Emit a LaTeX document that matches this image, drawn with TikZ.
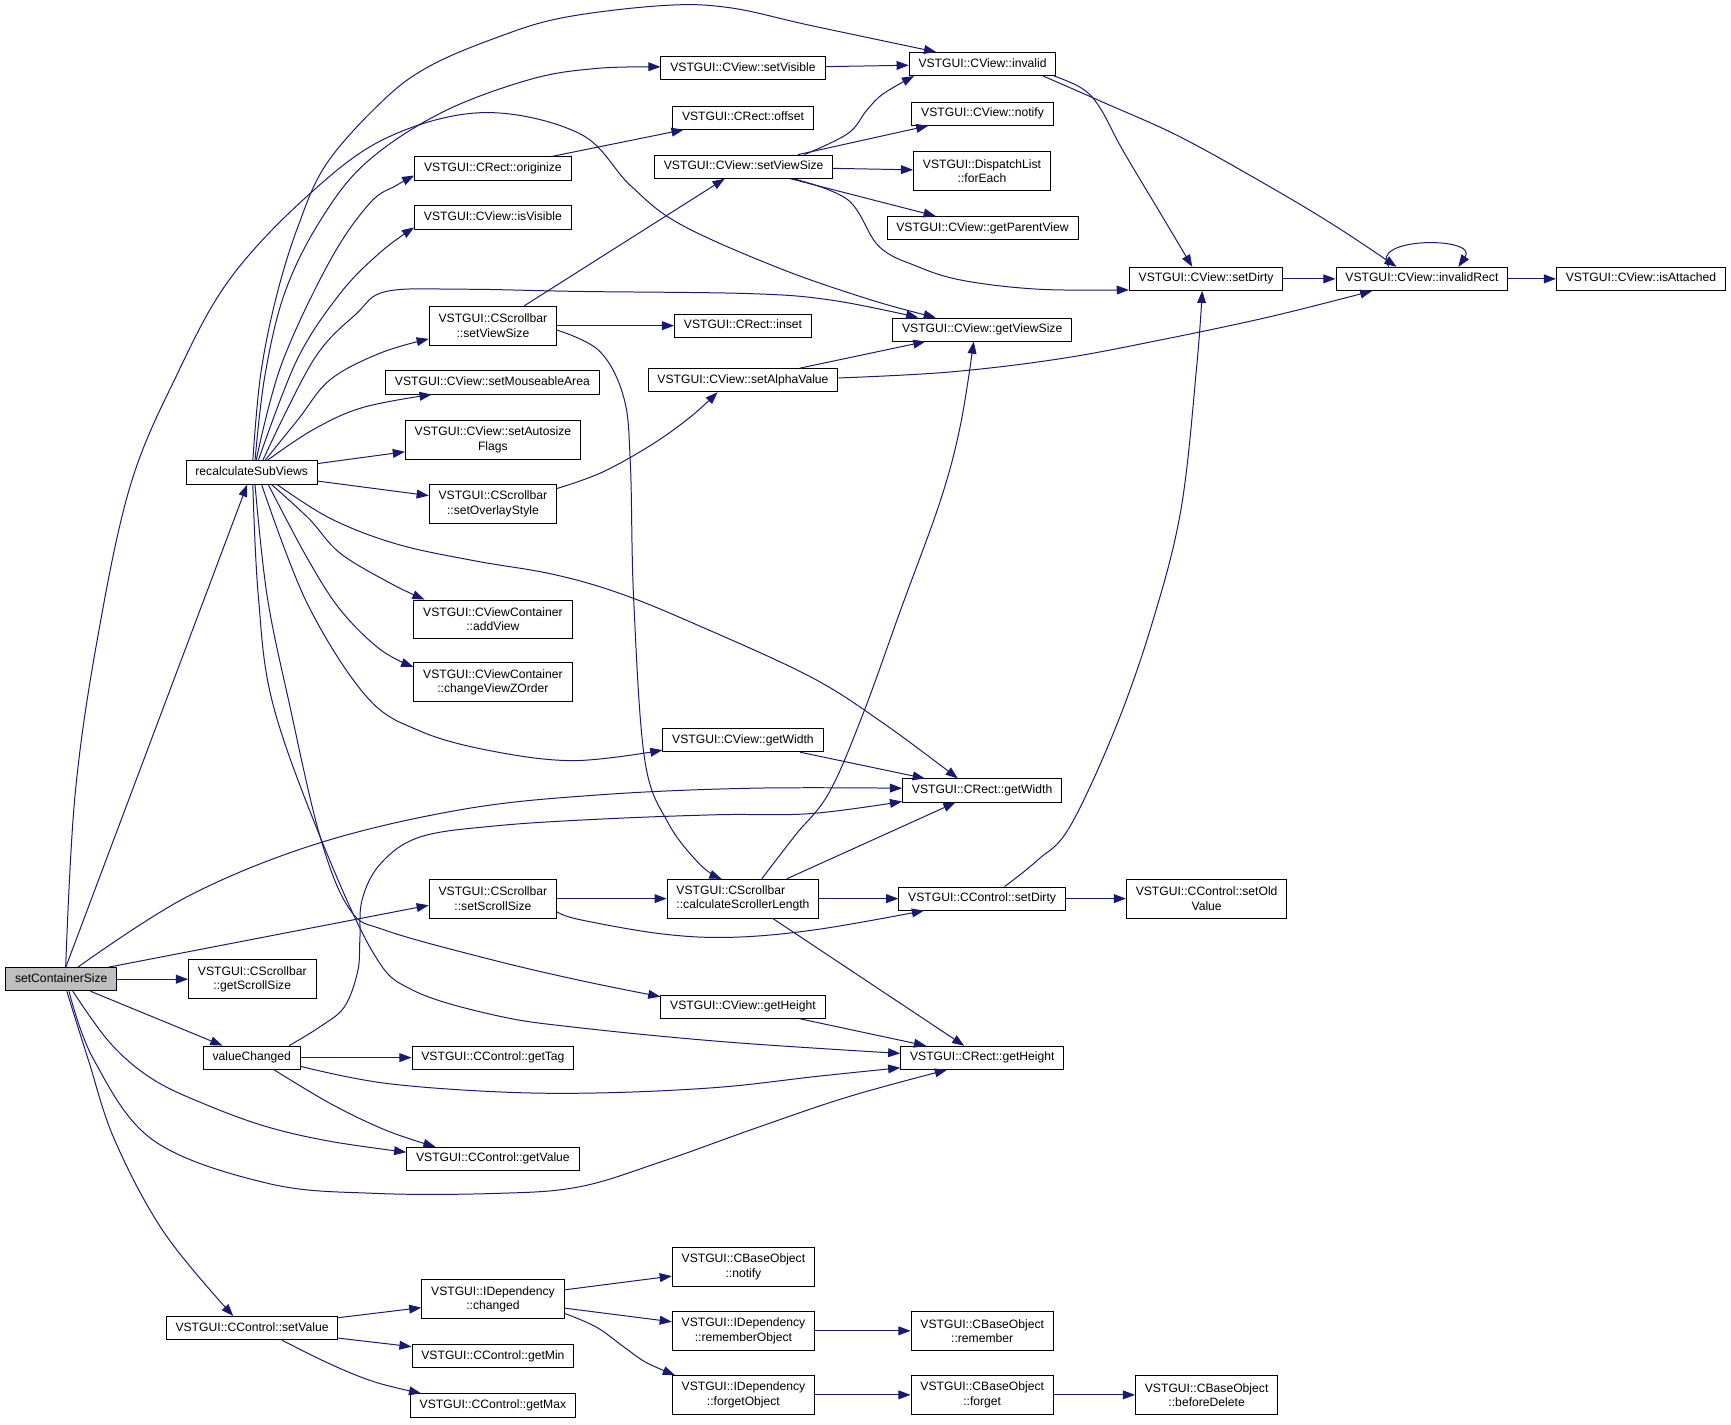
\documentclass[tikz,border=0pt]{standalone}
\usepackage{fontspec}
\newfontfamily\callfamily{Liberation Sans}
\usetikzlibrary{arrows.meta}
\definecolor{edgeblue}{HTML}{191970}
\definecolor{rootgrey}{HTML}{BFBFBF}
\newcommand{\cgfont}{\callfamily\fontsize{11}{13}\selectfont}

\tikzset{
  every node/.style={font=\cgfont},
  fn/.style={draw=black, line width=0.8pt, fill=white, inner xsep=8.5pt, inner ysep=5.25pt, text height=8pt, text depth=2.5pt},
  fntwo/.style={draw=black, line width=0.8pt, fill=white, inner xsep=8.5pt, inner ysep=2pt, minimum height=35pt, align=center},
  rootfn/.style={fn, fill=rootgrey},
  callarrow/.style={draw=edgeblue, line width=0.9pt, -{Triangle[length=11pt,width=8pt]}},
}

\begin{document}
\begin{tikzpicture}[x=1pt, y=-1pt]
  \useasboundingbox (0,0) rectangle (1568,1290);

  % caller and first level
  \node[rootfn] (sc) at (55.5,887) {setContainerSize};
  \node[fn] (rc) at (228,428) {recalculateSubViews};
  \node[fntwo] (gss) at (228.5,887) {VSTGUI::CScrollbar\\::getScrollSize};
  \node[fn] (vc) at (228,958) {valueChanged};
  \node[fn] (sval) at (228.3,1203) {VSTGUI::CControl::setValue};

  % second level
  \node[fn] (orig) at (446.5,152.5) {VSTGUI::CRect::originize};
  \node[fn] (isv) at (446.5,197) {VSTGUI::CView::isVisible};
  \node[fntwo] (csvs) at (446.5,295) {VSTGUI::CScrollbar\\::setViewSize};
  \node[fn] (sma) at (446,346.5) {VSTGUI::CView::setMouseableArea};
  \node[fntwo] (saf) at (446.5,398.5) {VSTGUI::CView::setAutosize\\Flags};
  \node[fntwo] (sos) at (446.5,456.5) {VSTGUI::CScrollbar\\::setOverlayStyle};
  \node[fntwo] (addv) at (446.5,561) {VSTGUI::CViewContainer\\::addView};
  \node[fntwo] (cvzo) at (446.5,618) {VSTGUI::CViewContainer\\::changeViewZOrder};
  \node[fntwo] (sss) at (446.5,814) {VSTGUI::CScrollbar\\::setScrollSize};
  \node[fn] (gtag) at (446.5,958) {VSTGUI::CControl::getTag};
  \node[fn] (gval) at (446.5,1049.7) {VSTGUI::CControl::getValue};
  \node[fntwo] (chg) at (446.5,1176.7) {VSTGUI::IDependency\\::changed};
  \node[fn] (gmin) at (446.5,1228.4) {VSTGUI::CControl::getMin};
  \node[fn] (gmax) at (446.5,1273) {VSTGUI::CControl::getMax};

  % third level
  \node[fn] (sv) at (673,61.6) {VSTGUI::CView::setVisible};
  \node[fn] (ofs) at (673,106.6) {VSTGUI::CRect::offset};
  \node[fn] (cvvs) at (673.6,151) {VSTGUI::CView::setViewSize};
  \node[fn] (inset) at (673,295) {VSTGUI::CRect::inset};
  \node[fn] (sav) at (673,344.4) {VSTGUI::CView::setAlphaValue};
  \node[fn] (cvgw) at (673,670.5) {VSTGUI::CView::getWidth};
  \node[fntwo, align=left] (csl) at (673,814) {VSTGUI::CScrollbar\\::calculateScrollerLength};
  \node[fn] (cvgh) at (673,911.8) {VSTGUI::CView::getHeight};
  \node[fntwo] (bnot) at (673.4,1147.6) {VSTGUI::CBaseObject\\::notify};
  \node[fntwo] (remo) at (673.4,1205.5) {VSTGUI::IDependency\\::rememberObject};
  \node[fntwo] (forg) at (673.4,1263.5) {VSTGUI::IDependency\\::forgetObject};

  % fourth level
  \node[fn] (inv) at (890,58) {VSTGUI::CView::invalid};
  \node[fn] (cvnot) at (890,103) {VSTGUI::CView::notify};
  \node[fntwo] (fe) at (889.5,155) {VSTGUI::DispatchList\\::forEach};
  \node[fn] (gpv) at (890,206.6) {VSTGUI::CView::getParentView};
  \node[fn] (gvs) at (889.7,298.5) {VSTGUI::CView::getViewSize};
  \node[fn] (crgw) at (889.6,716) {VSTGUI::CRect::getWidth};
  \node[fn] (ccsd) at (889.6,814) {VSTGUI::CControl::setDirty};
  \node[fn] (crgh) at (889.8,958.2) {VSTGUI::CRect::getHeight};
  \node[fntwo] (brem) at (889.7,1205.5) {VSTGUI::CBaseObject\\::remember};
  \node[fntwo] (bforg) at (889.7,1263.5) {VSTGUI::CBaseObject\\::forget};

  % last levels
  \node[fn] (cvsd) at (1092.5,252.6) {VSTGUI::CView::setDirty};
  \node[fntwo] (sov) at (1093,814) {VSTGUI::CControl::setOld\\Value};
  \node[fntwo] (bdel) at (1093,1263.5) {VSTGUI::CBaseObject\\::beforeDelete};
  \node[fn] (ir) at (1288,252.6) {VSTGUI::CView::invalidRect};
  \node[fn] (isa) at (1486.4,252.6) {VSTGUI::CView::isAttached};

  % calls from setContainerSize
  \draw[callarrow] (sc) -- (rc);
  \draw[callarrow] plot[smooth,tension=.6] coordinates {([xshift=4pt]sc.north) (68,720) (88,580) (118,440) (160,340) (208,253) (279,177) (350,125) (438,102) (525,121) (571,168) (616,203) (706,243) (790,272) ([xshift=-42pt]gvs.north)};
  \draw[callarrow] plot[smooth,tension=.6] coordinates {([xshift=15pt]sc.north) (170,812) (288,764) (420,733) (543,720) (680,714) ([yshift=2pt]crgw.west)};
  \draw[callarrow] ([xshift=-8pt]sc.north east) -- ([yshift=-6pt]sss.west);
  \draw[callarrow] (sc) -- (gss);
  \draw[callarrow] (sc) -- (vc);
  \draw[callarrow] plot[smooth,tension=.6] coordinates {([xshift=10.5pt]sc.south) (100,945) (139,978) (190,1002) (243,1021) (300,1034) ([yshift=6pt]gval.west)};
  \draw[callarrow] plot[smooth,tension=.6] coordinates {([xshift=7pt]sc.south) (85,960) (139,1033) (243,1072) (340,1081) (450,1081) (525,1075) (600,1052) (687,1021) (770,993) ([xshift=-32pt]crgh.south)};
  \draw[callarrow] plot[smooth,tension=.6] coordinates {([xshift=5pt]sc.south) (80,960) (104,1033) (149,1117) ([xshift=-17pt]sval.north)};

  % calls from recalculateSubViews
  \draw[callarrow] plot[smooth,tension=.6] coordinates {([xshift=1pt]rc.north) (236,340) (250,270) (270,205) (296,148) (347,91) (389,60) (450,34) (510,16) (601,5) (661,7) (734,23) ([xshift=-42pt]inv.north)};
  \draw[callarrow] plot[smooth,tension=.6] coordinates {([xshift=3pt]rc.north) (240,340) (258,265) (290,200) (332,147) (400,102) (480,72) (540,62) ([yshift=1pt]sv.west)};
  \draw[callarrow] plot[smooth,tension=.6] coordinates {([xshift=4pt]rc.north) (255,330) (299,236) (335,184) (359,168) ([yshift=-6.5pt]orig.west)};
  \draw[callarrow] plot[smooth,tension=.6] coordinates {([xshift=6pt]rc.north) (269,326) (308,266) (344,229) ([yshift=-9pt]isv.west)};
  \draw[callarrow] plot[smooth,tension=.6] coordinates {([xshift=10pt]rc.north) (284,326) (323,284) (350,264) (420,262) (525,264) (680,266) (754,272) ([xshift=-58pt]gvs.north)};
  \draw[callarrow] plot[smooth,tension=.6] coordinates {([xshift=12pt]rc.north) (270,380) (299,344) (344,320) ([yshift=-12pt]csvs.west)};
  \draw[callarrow] plot[smooth,tension=.6] coordinates {([xshift=14pt]rc.north) (284,389) (329,369) ([xshift=-55pt]sma.south)};
  \draw[callarrow] (rc) -- (saf);
  \draw[callarrow] (rc) -- (sos);
  \draw[callarrow] plot[smooth,tension=.6] coordinates {([xshift=18pt]rc.south) (280,470) (308,501) (353,528) ([xshift=-62pt]addv.north)};
  \draw[callarrow] plot[smooth,tension=.6] coordinates {([xshift=15pt]rc.south) (278,505) (308,552) (344,588) ([yshift=14pt]cvzo.west)};
  \draw[callarrow] plot[smooth,tension=.6] coordinates {([xshift=9pt]rc.south) (278,546) (332,631) (380,662) (444,680) (520,689) ([yshift=-9pt]cvgw.west)};
  \draw[callarrow] plot[smooth,tension=.6] coordinates {([xshift=23pt]rc.south) (300,470) (360,493) (430,508) (500,520) (560,537) (629,565) (734,613) (800,655) ([xshift=-22pt]crgw.north)};
  \draw[callarrow] plot[smooth,tension=.6] coordinates {([xshift=3pt]rc.south) (242,540) (262,637) (290,758) (317,824) (350,843) (444,869) (525,888) ([yshift=9pt]cvgh.west)};
  \draw[callarrow] plot[smooth,tension=.6] coordinates {([xshift=1pt]rc.south) (234,540) (247,637) (290,758) (338,863) (374,897) (450,920) (525,931) (660,944) ([yshift=4pt]crgh.west)};

  % second level calls
  \draw[callarrow] (sv) -- (inv);
  \draw[callarrow] (orig) -- (ofs);
  \draw[callarrow] (csvs) -- (cvvs);
  \draw[callarrow] (csvs) -- (inset);
  \draw[callarrow] plot[smooth,tension=.6] coordinates {([yshift=-4pt]csvs.east) (543,318) (565,360) (571,420) (574,543) (584,688) (605,745) (634,783) ([xshift=-19.4pt]csl.north)};
  \draw[callarrow] plot[smooth,tension=.6] coordinates {([yshift=14pt]sos.east) (545,428) (590,403) (625,378) ([xshift=-23pt]sav.south)};
  \draw[callarrow] (sss) -- (csl);
  \draw[callarrow] plot[smooth,tension=.6] coordinates {([yshift=-12pt]sss.east) (525,833) (600,846) (664,849) (740,842) ([xshift=-52.6pt]ccsd.south)};
  \draw[callarrow] plot[smooth,tension=.6] coordinates {([xshift=34pt]vc.north) (290,930) (312,912) (324,880) (326,851) (328,815) (345,782) (381,758) (450,748) (543,742) (650,738) (734,737) ([yshift=-10pt]crgw.west)};
  \draw[callarrow] (vc) -- (gtag);
  \draw[callarrow] plot[smooth,tension=.6] coordinates {([xshift=20pt]vc.south) (300,1000) (350,1024) ([xshift=-52pt]gval.north)};
  \draw[callarrow] plot[smooth,tension=.6] coordinates {([yshift=-8pt]vc.east) (347,981) (450,989) (543,990) (650,985) (740,975) ([yshift=-9pt]crgh.west)};
  \draw[callarrow] (sval) -- (chg);
  \draw[callarrow] (sval) -- (gmin);
  \draw[callarrow] plot[smooth,tension=.6] coordinates {([xshift=27pt]sval.south) (300,1236) (340,1252) ([xshift=-65pt]gmax.north)};
  \draw[callarrow] (chg) -- (bnot);
  \draw[callarrow] (chg) -- (remo);
  \draw[callarrow] plot[smooth,tension=.6] coordinates {([yshift=-13pt]chg.east) (540,1202) (565,1220) (585,1234) ([xshift=-62pt]forg.north)};

  % third level calls
  \draw[callarrow] (cvgw) -- (crgw);
  \draw[callarrow] (remo) -- (brem);
  \draw[callarrow] (forg) -- (bforg);
  \draw[callarrow] plot[smooth,tension=.6] coordinates {([xshift=55pt]cvvs.north) (768,121) (785,100) (800,85) ([xshift=-62pt]inv.south)};
  \draw[callarrow] (cvvs) -- (cvnot);
  \draw[callarrow] (cvvs) -- (fe);
  \draw[callarrow] (cvvs) -- (gpv);
  \draw[callarrow] plot[smooth,tension=.6] coordinates {([xshift=45pt]cvvs.south) (768,181) (796,223) (830,241) (872,254) (941,262) ([yshift=-10pt]cvsd.west)};
  \draw[callarrow] (sav) -- (gvs);
  \draw[callarrow] plot[smooth,tension=.6] coordinates {([yshift=2pt]sav.east) (860,337) (960,325) (1051,308) (1150,287) ([xshift=-45pt]ir.south)};
  \draw[callarrow] (cvgh) -- (crgh);
  \draw[callarrow] plot[smooth,tension=.6] coordinates {([xshift=17pt]csl.north) (720,757) (751,718) (782,646) (816,552) (852,453) (870,385) ([xshift=-7.7pt]gvs.south)};
  \draw[callarrow] (csl) -- (crgw);
  \draw[callarrow] (csl) -- (ccsd);
  \draw[callarrow] (csl) -- (crgh);

  % fourth level calls
  \draw[callarrow] plot[smooth,tension=.6] coordinates {([xshift=65pt]inv.south) (980,80) (996,97) (1017,136) (1051,193) ([xshift=-12.5pt]cvsd.north)};
  \draw[callarrow] plot[smooth,tension=.6] coordinates {([xshift=55pt]inv.south) (1000,93) (1069,124) (1150,169) (1210,205) ([xshift=-23pt]ir.north)};
  \draw[callarrow] plot[smooth,tension=.6] coordinates {([xshift=20.4pt]ccsd.north) (940,779) (969,749) (1011,658) (1045,560) (1070,460) (1084,332) ([xshift=-3.5pt]cvsd.south)};
  \draw[callarrow] (ccsd) -- (sov);
  \draw[callarrow] (bforg) -- (bdel);
  \draw[callarrow] (cvsd) -- (ir);
  \draw[callarrow] ([xshift=-30pt]ir.north) .. controls ([xshift=-50pt,yshift=27.6pt]ir.north) and ([xshift=52pt,yshift=27.6pt]ir.north) .. ([xshift=33pt]ir.north);
  \draw[callarrow] (ir) -- (isa);
\end{tikzpicture}
\end{document}
